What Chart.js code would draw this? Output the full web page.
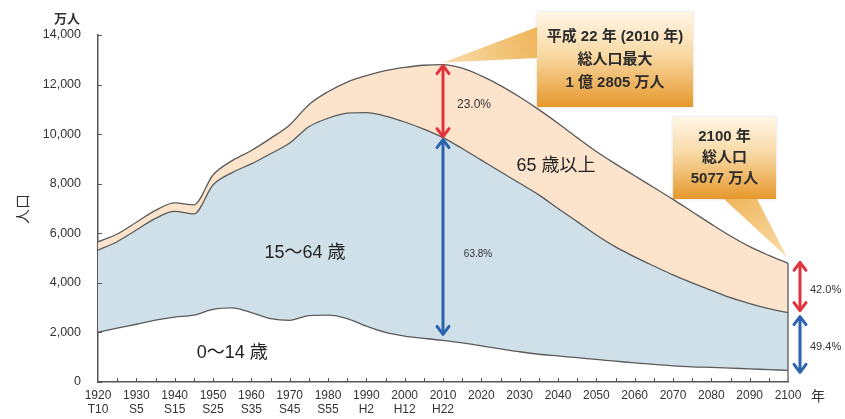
<!DOCTYPE html>
<html lang="ja">
<head>
  <meta charset="UTF-8" />
  <title>総人口の長期的推移</title>
  <script src="https://cdn.jsdelivr.net/npm/chart.js"></script>
  <style>
    html, body { margin: 0; padding: 0; background: #fff; }
    #wrap { width: 845px; height: 419px; }
  </style>
</head>
<body>
  <div id="wrap"><canvas id="popChart" width="845" height="419"></canvas></div>

  <script>
    // population by age group, 万人 (1920-2010 census, 2015- projection)
    const years = [1920, 1925, 1930, 1935, 1940, 1945, 1950, 1955, 1960, 1965,
                   1970, 1975, 1980, 1985, 1990, 1995, 2000, 2005, 2010, 2015,
                   2020, 2025, 2030, 2035, 2040, 2045, 2050, 2055, 2060, 2065,
                   2070, 2075, 2080, 2085, 2090, 2095, 2100];
    const age0to14 = [2010, 2170, 2330, 2500, 2620, 2700, 2930, 2990, 2800, 2560,
                      2490, 2680, 2700, 2560, 2250, 2000, 1850, 1760, 1680, 1580,
                      1460, 1340, 1220, 1120, 1050, 980, 910, 840, 770, 710,
                      650, 610, 590, 560, 530, 500, 470];
    const age15to64 = [3310, 3490, 3800, 4100, 4260, 4080, 5020, 5460, 6000, 6650,
                       7150, 7620, 7940, 8290, 8620, 8730, 8640, 8440, 8178, 7840,
                       7490, 7140, 6800, 6430, 5950, 5490, 5020, 4610, 4280, 3970,
                       3670, 3390, 3110, 2840, 2630, 2460, 2330];
    const age65plus = [330, 310, 315, 325, 350, 370, 400, 480, 540, 620,
                       730, 890, 1070, 1250, 1490, 1830, 2200, 2580, 2948, 3240,
                       3400, 3480, 3480, 3440, 3440, 3390, 3370, 3350, 3270, 3170,
                       3050, 2870, 2670, 2490, 2300, 2150, 1990];
    const groupNames = ['0～14 歳', '15～64 歳', '65 歳以上'];
    const eraLabels = { 1920: 'T10', 1930: 'S5', 1940: 'S15', 1950: 'S25', 1960: 'S35',
                        1970: 'S45', 1980: 'S55', 1990: 'H2', 2000: 'H12', 2010: 'H22' };
    const peakBox = ['平成 22 年 (2010 年)', '総人口最大', '1 億 2805 万人'];
    const endBox = ['2100 年', '総人口', '5077 万人'];
    const sharePeak = ['23.0%', '63.8%'];
    const shareEnd = ['42.0%', '49.4%'];

    const total = years.map((_, i) => age0to14[i] + age15to64[i] + age65plus[i]);
    const under65 = years.map((_, i) => age0to14[i] + age15to64[i]);
    const toPoints = arr => years.map((yr, i) => ({ x: yr, y: arr[i] }));

    const jpFont = '"Liberation Sans", "Noto Sans CJK JP", sans-serif';

    function arrowHead(ctx, x, y, dir) {
      ctx.beginPath();
      ctx.moveTo(x - 6, y + dir * 8);
      ctx.lineTo(x, y);
      ctx.lineTo(x + 6, y + dir * 8);
      ctx.stroke();
    }

    function doubleArrow(ctx, x, y1, y2, color) {
      ctx.save();
      ctx.strokeStyle = color;
      ctx.lineWidth = 3;
      ctx.lineCap = 'round';
      ctx.lineJoin = 'round';
      ctx.beginPath();
      ctx.moveTo(x, y1 + 1);
      ctx.lineTo(x, y2 - 1);
      ctx.stroke();
      arrowHead(ctx, x, y1, 1);
      arrowHead(ctx, x, y2, -1);
      ctx.restore();
    }

    function callout(ctx, box, tip, base, lines, lineGap) {
      const g = ctx.createLinearGradient(0, box.y, 0, box.y + box.h);
      g.addColorStop(0, '#fff6e6');
      g.addColorStop(0.45, '#f8d9a4');
      g.addColorStop(1, '#e6982c');
      ctx.save();
      ctx.shadowColor = 'rgba(0,0,0,0.15)';
      ctx.shadowBlur = 3;
      ctx.fillStyle = g;
      ctx.fillRect(box.x, box.y, box.w, box.h);
      ctx.restore();

      ctx.save();
      const pg = ctx.createLinearGradient(base[0][0], base[0][1], tip[0], tip[1]);
      pg.addColorStop(0, '#eeb458');
      pg.addColorStop(1, '#f9dcaa');
      ctx.fillStyle = pg;
      ctx.beginPath();
      ctx.moveTo(base[0][0], base[0][1]);
      ctx.lineTo(tip[0], tip[1]);
      ctx.lineTo(base[1][0], base[1][1]);
      ctx.closePath();
      ctx.fill();

      ctx.fillStyle = '#2b2b2b';
      ctx.font = 'bold 15px ' + jpFont;
      ctx.textAlign = 'center';
      ctx.textBaseline = 'middle';
      const cx = box.x + box.w / 2;
      lines.forEach((t, i) => ctx.fillText(t, cx, box.y + box.h / 2 + (i - 1) * lineGap));
      ctx.restore();
    }

    const overlay = {
      id: 'overlay',
      afterDatasetsDraw(chart) {
        const { ctx, chartArea, scales: { x, y } } = chart;
        const last = years.length - 1;
        const xEnd = x.getPixelForValue(years[last]);

        // closing edge of the areas at 2100
        ctx.save();
        ctx.strokeStyle = '#5a5a5a';
        ctx.lineWidth = 1.3;
        ctx.beginPath();
        ctx.moveTo(xEnd, y.getPixelForValue(total[last]));
        ctx.lineTo(xEnd, chartArea.bottom);
        ctx.stroke();

        // inward tick marks
        ctx.strokeStyle = '#555';
        ctx.lineWidth = 1;
        for (let v = 0; v <= 14000; v += 2000) {
          const py = Math.round(y.getPixelForValue(v)) + 0.5;
          ctx.beginPath();
          ctx.moveTo(chartArea.left, py);
          ctx.lineTo(chartArea.left + 4, py);
          ctx.stroke();
        }
        for (let yr = 1925; yr <= 2095; yr += 5) {
          const px = Math.round(x.getPixelForValue(yr)) + 0.5;
          ctx.beginPath();
          ctx.moveTo(px, chartArea.bottom);
          ctx.lineTo(px, chartArea.bottom - 4);
          ctx.stroke();
        }
        ctx.restore();

        // group labels
        ctx.save();
        ctx.fillStyle = '#222';
        ctx.font = '18px ' + jpFont;
        ctx.textAlign = 'center';
        ctx.textBaseline = 'middle';
        ctx.fillText(groupNames[0], x.getPixelForValue(1955), y.getPixelForValue(1170));
        ctx.fillText(groupNames[1], x.getPixelForValue(1974), y.getPixelForValue(5220));
        ctx.fillText(groupNames[2], x.getPixelForValue(2039.5), y.getPixelForValue(8700));
        ctx.restore();

        // share arrows at the 2010 peak
        const i2010 = years.indexOf(2010);
        const xPeak = x.getPixelForValue(2010);
        const yTop = y.getPixelForValue(total[i2010]);
        const yMid = y.getPixelForValue(under65[i2010]);
        const yLow = y.getPixelForValue(age0to14[i2010]);
        doubleArrow(ctx, xPeak, yTop + 1, yMid - 1, '#e2333c');
        doubleArrow(ctx, xPeak, yMid + 2, yLow - 6, '#2d62ad');

        // share arrows at 2100
        const xR = xEnd + 12;
        const yTopR = y.getPixelForValue(total[last]);
        const yMidR = y.getPixelForValue(under65[last]);
        const yLowR = y.getPixelForValue(age0to14[last]);
        doubleArrow(ctx, xR, yTopR - 1, yMidR - 2, '#e2333c');
        doubleArrow(ctx, xR, yMidR + 4, yLowR + 2, '#2d62ad');

        ctx.save();
        ctx.fillStyle = '#333';
        ctx.textBaseline = 'middle';
        ctx.textAlign = 'center';
        ctx.font = '12px "Liberation Sans", sans-serif';
        ctx.fillText(sharePeak[0], xPeak + 31, (yTop + yMid) / 2 + 4);
        ctx.font = '10px "Liberation Sans", sans-serif';
        ctx.fillText(sharePeak[1], xPeak + 35, (yMid + yLow) / 2 + 15);
        ctx.textAlign = 'left';
        ctx.font = '11px "Liberation Sans", sans-serif';
        ctx.fillText(shareEnd[0], xR + 10, (yTopR + yMidR) / 2 + 2);
        ctx.fillText(shareEnd[1], xR + 10, (yMidR + yLowR) / 2 + 5);
        ctx.restore();

        // callouts
        callout(ctx, { x: 537, y: 12, w: 156, h: 95 }, [xPeak, yTop - 2],
                [[537, 27], [537, 58]], peakBox, 23);
        callout(ctx, { x: 673, y: 117, w: 103, h: 82 }, [xEnd - 1, yTopR - 6],
                [[724, 199], [757, 199]], endBox, 21);

        // units
        ctx.save();
        ctx.fillStyle = '#333';
        ctx.font = 'bold 13px ' + jpFont;
        ctx.textAlign = 'right';
        ctx.textBaseline = 'middle';
        ctx.fillText('万人', 80, 19);
        ctx.textAlign = 'center';
        ctx.font = '14px ' + jpFont;
        ctx.fillText('年', 818, 397);
        ctx.translate(24, 209);
        ctx.rotate(-Math.PI / 2);
        ctx.font = '15px ' + jpFont;
        ctx.fillText('人口', 0, 0);
        ctx.restore();
      }
    };

    const lineStyle = {
      borderColor: '#5a5a5a',
      borderWidth: 1.3,
      pointRadius: 0,
      cubicInterpolationMode: 'monotone'
    };

    new Chart(document.getElementById('popChart'), {
      type: 'line',
      data: {
        datasets: [
          { label: groupNames[0], data: toPoints(age0to14), fill: false, ...lineStyle },
          { label: groupNames[1], data: toPoints(age15to64), fill: '-1',
            backgroundColor: '#cfe0e8', ...lineStyle },
          { label: groupNames[2], data: toPoints(age65plus), fill: '-1',
            backgroundColor: '#fce4cc', ...lineStyle }
        ]
      },
      options: {
        responsive: false,
        animation: false,
        devicePixelRatio: 1,
        layout: { padding: { top: 35, right: 57, bottom: 0, left: 0 } },
        plugins: { legend: { display: false }, tooltip: { enabled: false } },
        scales: {
          x: {
            type: 'linear',
            min: 1920,
            max: 2100,
            grid: { display: false, drawTicks: false },
            border: { display: true, color: '#555', width: 1.5 },
            afterFit: s => { s.height = 37; s.paddingLeft = 0; s.paddingRight = 0; },
            ticks: {
              stepSize: 10,
              autoSkip: false,
              maxRotation: 0,
              padding: 7,
              color: '#333',
              font: { family: '"Liberation Sans Narrow", "Liberation Sans", sans-serif', size: 12, lineHeight: 1.15 },
              callback: v => eraLabels[v] ? [String(v), eraLabels[v]] : String(v)
            }
          },
          y: {
            stacked: true,
            min: 0,
            max: 14000,
            grid: { display: false, drawTicks: false },
            border: { display: true, color: '#555', width: 1.5 },
            afterFit: s => { s.width = 98; s.paddingTop = 0; s.paddingBottom = 0; },
            ticks: {
              stepSize: 2000,
              padding: 17,
              color: '#333',
              font: { family: '"Liberation Sans", sans-serif', size: 12.5 },
              callback: v => v.toLocaleString('en-US')
            }
          }
        }
      },
      plugins: [overlay]
    });
  </script>
</body>
</html>
